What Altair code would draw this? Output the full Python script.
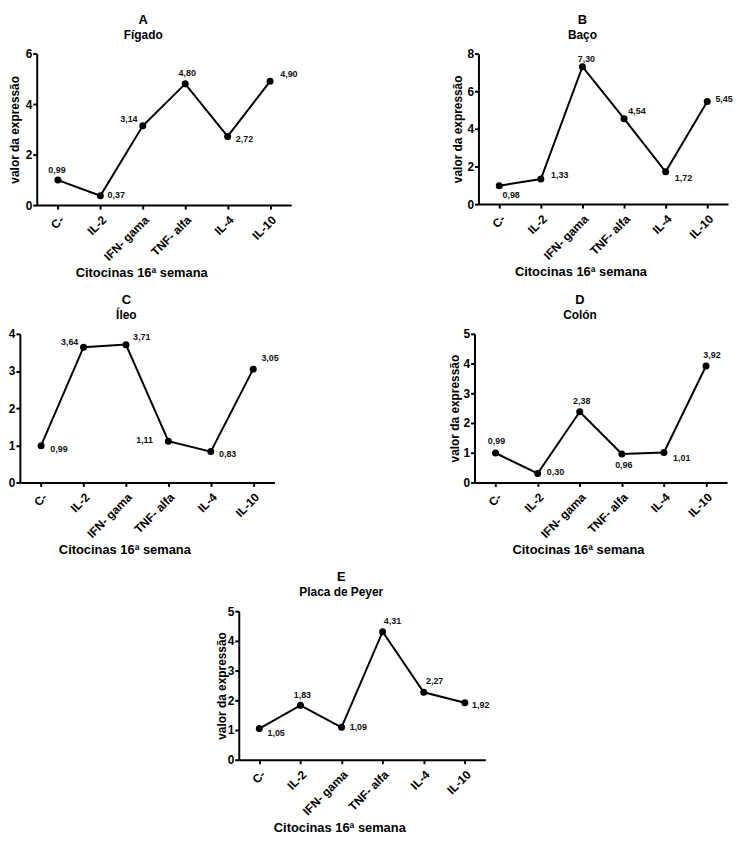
import altair as alt
import pandas as pd

CATEGORIES = ["C-", "IL-2", "IFN- gama", "TNF- alfa", "IL-4", "IL-10"]
LETTERS = ["A", "B", "C", "D", "E"]
ORGANS = ["Fígado", "Baço", "Íleo", "Colón", "Placa de Peyer"]
VALUES_A = [0.99, 0.37, 3.14, 4.80, 2.72, 4.90]
VALUES_B = [0.98, 1.33, 7.30, 4.54, 1.72, 5.45]
VALUES_C = [0.99, 3.64, 3.71, 1.11, 0.83, 3.05]
VALUES_D = [0.99, 0.30, 2.38, 0.96, 1.01, 3.92]
VALUES_E = [1.05, 1.83, 1.09, 4.31, 2.27, 1.92]
Y_MAX = [6, 8, 4, 5, 5]
Y_STEP = [2, 2, 1, 1, 1]
Y_TITLE = "valor da expressão"
X_TITLE = "Citocinas 16ª semana"

# label placement (pixel offsets from each point), layout only
LABEL_OFFSETS = {
    "A": [(-1, -10), (16, -1), (-14, -7), (2, -11), (17, 3), (19, -7)],
    "B": [(12, 9), (19, -4), (4, -8), (13, -8), (18, 6), (17, -3)],
    "C": [(18, 3), (-14, -5), (16, -8), (-24, -1), (17, 2), (17, -11)],
    "D": [(1, -12), (18, -2), (2, -11), (2, 11), (18, 6), (6, -11)],
    "E": [(17, 5), (2, -10), (17, 0), (10, -11), (11, -11), (16, 2)],
}
# panel sizes / axis title positions, layout only
SIZES = {"A": (257, 153), "B": (252, 152), "C": (257, 150), "D": (255, 150), "E": (249, 150)}
YTITLE_X = {"A": -22, "B": -21, "C": None, "D": -20, "E": -17}


def fmt(v):
    return f"{v:.2f}".replace(".", ",")


def panel(letter, organ, values, ymax, ystep):
    w, h = SIZES[letter]
    df = pd.DataFrame({"cat": CATEGORIES, "val": values, "lab": [fmt(v) for v in values]})
    xaxis = alt.Axis(
        title=X_TITLE, labelAngle=315, titleX=w / 2 - 23, titleY=68,
        titleAlign="center", titleBaseline="middle", titleFontSize=13,
        labelFontSize=12, labelPadding=5,
    )
    yt = YTITLE_X[letter]
    if yt is None:
        yaxis = alt.Axis(title=None, values=list(range(0, ymax + 1, ystep)))
    else:
        yaxis = alt.Axis(
            title=Y_TITLE, values=list(range(0, ymax + 1, ystep)),
            titleX=yt, titleY=h / 2, titleAngle=270, titleAlign="center",
            titleBaseline="middle", titleFontSize=12,
        )
    x = alt.X("cat:N", sort=CATEGORIES, scale=alt.Scale(type="point", padding=0.5), axis=xaxis)
    y = alt.Y("val:Q", scale=alt.Scale(domain=[0, ymax], nice=False), axis=yaxis)
    base = alt.Chart(df)
    line = base.mark_line(color="black", strokeWidth=2).encode(x=x, y=y)
    pts = base.mark_circle(color="black", size=50, opacity=1).encode(x=x, y=y)
    layers = [line, pts]
    for i, cat in enumerate(CATEGORIES):
        dx, dy = LABEL_OFFSETS[letter][i]
        layers.append(
            base.transform_filter(alt.datum.cat == cat)
            .mark_text(fontSize=9, fontWeight="bold", color="#111", dx=dx, dy=dy)
            .encode(x=x, y=y, text="lab:N")
        )
    return alt.layer(*layers).properties(
        width=w, height=h,
        title=alt.TitleParams(letter, subtitle=organ, dx=-21),
    )


def spacer(w):
    return alt.Chart(pd.DataFrame({"v": [0]})).mark_point(opacity=0).encode(
        x=alt.X("v:Q", axis=None), y=alt.Y("v:Q", axis=None)
    ).properties(width=w, height=1)


vals = [VALUES_A, VALUES_B, VALUES_C, VALUES_D, VALUES_E]
P = [panel(LETTERS[i], ORGANS[i], vals[i], Y_MAX[i], Y_STEP[i]) for i in range(5)]

row1 = alt.hconcat(spacer(27), P[0], spacer(189), P[1], spacing=0, bounds="flush")
row2 = alt.hconcat(spacer(10), P[2], spacer(202), P[3], spacing=0, bounds="flush")
row3 = alt.hconcat(spacer(231), P[4], spacing=0, bounds="flush")

chart = alt.vconcat(row1, row2, row3, spacing=15).properties(
    padding={"left": 0, "top": 2, "right": 0, "bottom": 0}
).configure(font="Liberation Sans").configure_view(stroke=None).configure_axis(
    grid=False, domainColor="black", domainWidth=2, tickColor="black", tickWidth=2,
    tickSize=4, labelColor="black", labelFontWeight="bold", labelFontSize=12,
    labelPadding=1, titleColor="black", titleFontWeight="bold",
).configure_title(
    fontSize=13, fontWeight="bold", color="black", subtitleFontSize=12,
    subtitleFontWeight="bold", subtitleColor="black", anchor="middle", offset=7,
    subtitlePadding=0,
)

chart.save("out.html", embed_options={"renderer": "svg", "actions": False})
